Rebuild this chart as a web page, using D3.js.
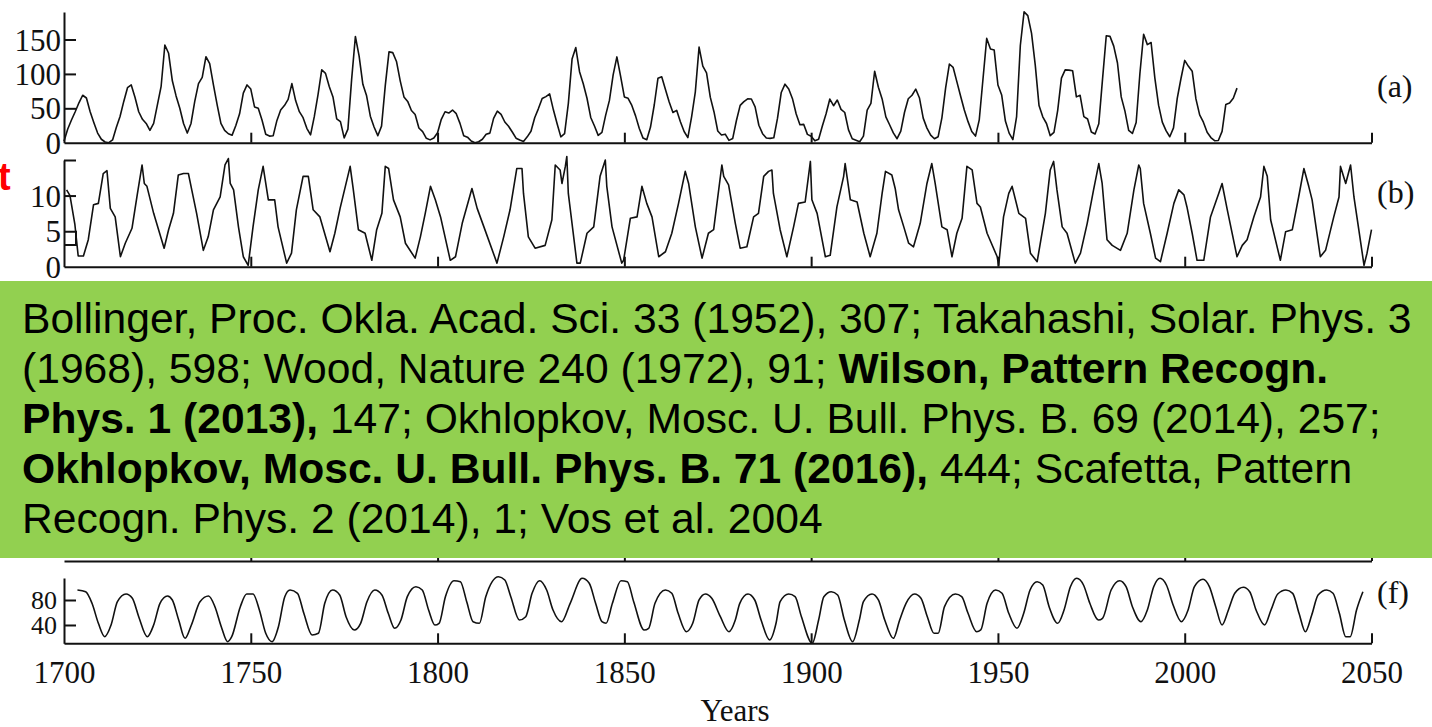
<!DOCTYPE html>
<html><head><meta charset="utf-8">
<script src="https://cdn.jsdelivr.net/npm/d3@7"></script>
<style>
body{margin:0;background:#fff;overflow:hidden}
svg{display:block}
</style>
</head><body>
<svg id="chart" width="1432" height="727"></svg>
<script>
// ---------- DATA ----------
// (a) yearly sunspot numbers
const sunspotYears = d3.range(1700, 2015);
const sunspotValues = [
2,20,33,45,58,69,65,45,29,14,5,1,0,4,22,38,60,80,84,66,
45,34,28,18,28,55,82,142,130,90,68,50,28,14,28,60,86,95,125,115,
84,55,28,18,13,11,25,42,72,84,78,52,50,33,12.2,9.6,10.2,32.4,47.6,54,
62.9,85.9,61.2,45.1,36.4,20.9,11.4,37.8,69.8,106.1,100.8,81.6,66.5,34.8,30.6,7,19.8,92.5,154.4,125.9,
84.8,68.1,38.5,22.8,10.2,24.1,82.9,132,130.9,118.1,89.9,66.6,60,46.9,41,21.3,16,6.4,4.1,6.8,
14.5,34,45,43.1,47.5,42.2,28.1,10.1,8.1,2.5,0,1.4,5,12.2,13.9,35.4,45.8,41.1,30.1,23.9,
15.6,6.6,4,1.8,8.5,16.6,36.3,49.6,64.2,67,70.9,47.8,27.5,8.5,13.2,56.9,121.5,138.3,103.2,85.7,
64.6,36.7,24.2,10.7,15,40.1,61.5,98.5,124.7,96.3,66.6,64.5,54.1,39,20.6,6.7,4.3,22.7,54.8,93.8,
95.8,77.2,59.1,44,47,30.5,16.3,7.3,37.6,74,139,111.2,101.6,66.2,44.7,17,11.3,12.4,3.4,6,
32.3,54.3,59.7,63.7,63.5,52.2,25.4,13.1,6.8,6.3,7.1,35.6,73,85.1,78,64,41.8,26.2,26.7,12.1,
9.5,2.7,5,24.4,42,63.5,53.8,62,48.5,43.9,18.6,5.7,3.6,1.4,9.6,47.4,57.1,103.9,80.6,63.6,
37.6,26.1,14.2,5.8,16.7,44.3,63.9,69,77.8,64.9,35.7,21.2,11.1,5.7,8.7,36.1,79.7,114.4,109.6,88.8,
67.8,47.5,30.6,16.3,9.6,33.2,92.6,151.6,136.3,134.7,83.9,69.4,31.5,13.9,4.4,38,141.7,190.2,184.8,159,
112.3,53.9,37.6,27.9,10.2,15.1,47,93.8,105.9,105.5,104.5,66.6,68.9,38,34.5,15.5,12.6,27.5,92.5,155.4,
154.6,140.4,115.9,66.6,45.9,17.9,13.4,29.4,100.2,157.6,142.6,145.7,94.3,54.6,29.9,17.5,8.6,21.5,64.3,93.3,
119.6,111,104,63.7,40.4,29.8,15.2,7.5,2.9,3.1,16.5,55.7,57.6,64.7,79.3
];

// (b) index
const bYears = [1700.7,1701.6,1702.9,1703.8,1705.2,1706.5,1707.9,1709.2,1710.5,1711.5,1712.4,1713.7,1715.1,1716.4,1718.2,1719.6,1720.9,1721.5,1722.2,1724.0,
1726.8,1728.0,1729.3,1730.6,1732.0,1733.3,1734.2,1735.5,1737.3,1738.6,1740.0,1741.8,1743.1,1744.0,1744.5,1745.4,1746.7,1748.0,1749.3,1750.6,
1752.0,1753.3,1754.7,1756.4,1757.3,1759.6,1760.9,1762.2,1764.0,1765.4,1766.7,1768.5,1771.2,1772.5,1773.9,1776.6,1777.4,1778.8,1780.6,1782.4,
1783.7,1785.1,1786.0,1786.9,1788.2,1790.0,1791.4,1794.0,1795.4,1796.7,1798.1,1799.4,1800.8,1803.4,1804.8,1806.6,1809.2,1810.6,1812.4,1815.9,
1817.7,1819.4,1821.2,1822.6,1823.0,1824.3,1826.1,1828.8,1830.6,1831.5,1832.8,1833.3,1834.2,1834.6,1835.0,1837.3,1838.2,1840.0,1841.8,1843.5,
1844.9,1845.3,1846.7,1849.3,1849.8,1851.6,1853.4,1854.7,1856.0,1857.4,1859.2,1861.0,1862.7,1864.5,1866.3,1867.2,1869.0,1870.8,1872.5,1873.9,
1876.1,1876.6,1877.9,1879.7,1881.0,1882.8,1884.6,1885.9,1887.3,1888.6,1889.5,1889.9,1891.7,1893.5,1895.3,1896.6,1898.4,1899.8,1900.2,1901.6,
1903.8,1905.1,1906.9,1908.7,1909.1,1910.5,1912.3,1914.1,1915.8,1917.6,1919.0,1919.9,1921.6,1922.5,1923.4,1924.8,1926.1,1927.4,1929.2,1931.0,
1932.3,1933.2,1935.0,1936.4,1937.7,1939.0,1940.4,1941.7,1943.1,1944.4,1945.3,1947.1,1949.8,1950.2,1951.5,1952.9,1953.8,1955.6,1957.4,1958.7,
1960.5,1962.7,1964.0,1964.9,1965.8,1967.2,1968.5,1970.7,1972.1,1973.9,1975.6,1977.0,1977.9,1979.2,1980.6,1982.8,1984.6,1986.4,1987.7,1988.1,
1989.0,1990.8,1992.2,1993.5,1995.3,1997.1,1998.4,1999.8,2000.6,2002.0,2003.3,2005.1,2006.9,2009.1,2010.0,2011.4,2014.0,2015.4,2016.7,2018.5,
2020.3,2021.2,2022.1,2023.0,2025.6,2027.0,2028.8,2030.5,2031.9,2033.2,2034.1,2036.3,2037.7,2039.9,2041.3,2041.7,2043.1,2044.4,2045.3,2046.6,
2048.0,2048.8,2050.0];
const bValues = [10.8,10.0,6.0,1.5,1.5,3.8,8.7,8.9,13.1,13.5,8.2,7.0,1.4,3.3,5.4,10.1,14.3,11.7,11.3,7.5,
2.6,5.2,7.5,12.9,13.1,13.1,10.8,7.5,2.3,4.2,8.0,9.8,14.3,15.2,11.7,10.8,5.6,1.4,0.2,5.6,
10.8,14.1,9.4,9.4,5.6,0.5,1.9,8.0,12.7,12.7,8.0,7.0,2.1,4.7,8.2,14.1,11.0,5.2,4.7,0.9,
5.2,7.5,14.1,13.8,9.4,7.0,3.3,1.2,4.2,7.5,11.3,9.4,7.0,0.9,1.4,6.1,11.0,8.2,5.6,0.5,
4.2,8.0,13.8,13.8,10.3,4.2,2.6,3.0,6.6,14.3,13.6,11.7,14.1,15.5,10.3,0.5,0.5,4.7,5.6,12.7,
15.0,11.3,5.6,0.5,0.9,6.8,7.0,11.3,8.9,7.0,1.4,2.1,4.7,8.9,13.4,11.7,5.6,1.2,4.7,5.2,
14.3,12.7,11.5,6.1,2.6,2.8,7.0,7.5,12.7,13.4,13.6,10.3,5.2,1.4,5.6,8.9,9.1,14.8,9.4,7.5,
1.4,1.6,8.4,12.7,14.5,9.4,9.1,4.7,1.4,4.7,10.3,13.4,12.9,11.0,8.0,5.6,3.3,2.8,6.1,11.7,
14.5,11.7,5.6,5.2,1.4,4.7,6.8,14.1,13.6,8.9,8.4,4.7,1.4,0.2,7.0,10.3,11.3,7.5,6.8,1.9,
0.7,7.5,13.6,14.8,10.8,5.6,4.7,0.5,1.9,6.1,10.8,14.5,11.7,3.8,3.0,2.3,4.7,10.8,14.3,13.8,
8.9,4.7,1.2,0.7,4.7,8.9,10.8,10.1,8.4,4.7,0.9,0.9,7.0,10.3,11.7,8.0,1.4,3.0,3.8,7.0,
9.8,14.1,12.7,6.6,0.9,4.9,5.2,9.8,13.8,11.3,9.4,1.4,2.3,7.0,9.8,14.1,11.7,14.3,9.8,5.2,
0.2,1.9,5.2];

// (f) index
const fYears = [1703.6,1705.8,1707.5,1709.2,1710.9,1712.6,1714.3,1716.6,1718.3,1720.0,1722.3,1724.0,1725.7,1727.7,1729.0,1730.7,1732.4,1734.1,1736.4,1738.7,
1740.4,1742.1,1743.8,1744.9,1747.2,1748.9,1750.6,1752.3,1754.0,1755.7,1757.4,1759.1,1760.5,1762.5,1764.2,1766.4,1768.1,1769.8,1771.9,1773.8,
1775.5,1777.7,1779.4,1781.1,1783.2,1785.1,1786.8,1788.5,1790.2,1791.9,1794.2,1795.9,1797.6,1799.3,1800.4,1802.1,1804.4,1806.1,1807.8,1809.5,
1811.2,1812.9,1816.3,1818.0,1819.6,1821.9,1823.6,1825.3,1827.3,1829.2,1830.9,1833.2,1835.5,1838.7,1840.6,1842.3,1844.0,1845.1,1846.8,1849.1,
1850.8,1852.5,1855.3,1856.5,1858.2,1861.0,1862.7,1864.4,1866.6,1868.3,1870.0,1871.7,1873.4,1875.7,1878.0,1879.7,1880.9,1883.1,1884.9,1886.6,
1888.9,1890.6,1891.7,1894.0,1895.7,1897.4,1900.3,1902.0,1903.4,1905.4,1907.1,1908.9,1911.1,1912.9,1914.0,1916.3,1918.0,1919.7,1922.0,1923.7,
1925.4,1927.7,1929.4,1931.1,1932.9,1934.0,1935.7,1938.6,1940.3,1942.0,1944.3,1945.4,1947.1,1949.4,1951.1,1952.9,1955.1,1956.9,1958.6,1960.5,
1962.0,1963.7,1966.0,1967.7,1969.4,1971.1,1972.9,1974.6,1976.9,1978.0,1980.3,1982.6,1984.3,1986.0,1988.3,1990.0,1991.7,1993.4,1995.1,1996.9,
1999.1,2000.9,2002.6,2004.9,2006.6,2008.3,2010.0,2011.7,2013.4,2015.7,2017.4,2019.1,2021.4,2023.1,2024.9,2027.1,2028.9,2030.6,2032.3,2034.0,
2035.7,2038.0,2039.7,2041.4,2043.1,2044.3,2046.0,2047.7];
const fValues = [96,93.3,74.7,42.7,21.3,40,77.3,89.6,82.7,53.3,21.3,40,74.7,86.4,80,48,18.7,40,77.3,86.4,
69.3,37.3,13.3,21.3,69.3,89.6,89.6,64,26.7,13.3,37.3,85.3,96,90.7,58.7,24,26.7,74.7,96,88,
53.3,32,42.7,77.3,96,88,58.7,34.7,48,85.3,101.3,96,64,40,42.7,85.3,110.9,109.3,77.3,45.3,
42.7,85.3,117.3,112,85.3,48,53.3,90.7,110.9,96,64,45.3,74.7,114.7,106.7,74.7,45.3,42.7,74.7,110.9,
109.3,77.3,32,34.7,74.7,96,90.7,58.7,29.3,42.7,80,89.6,82.7,53.3,29.3,48,74.7,89.6,80,48,
16,42.7,77.3,89.6,85.3,53.3,10.7,48,85.3,93.3,88,48,13.3,48,77.3,89.6,80,48,18.7,48,
74.7,89.6,82.7,53.3,26.7,26.7,69.3,89.6,85.3,58.7,29.3,32,74.7,96,90.7,58.7,34.7,58.7,96,109.3,
104,69.3,42.7,64,101.3,114.7,104,74.7,48,50.7,96,110.9,101.3,69.3,45.3,64,101.3,114.7,104,72,
45.3,64,101.3,113.1,101.3,69.3,40,64,90.7,100.3,93.3,64,40,64,89.6,96,90.7,58.7,29.3,56,
88,96,90.7,58.7,21.3,21.3,64,93.3];

const xTickYears = [1700,1750,1800,1850,1900,1950,2000,2050];
const aTicks = [0,50,100,150];
const bTicks = [0,5,10];
const fTicks = [40,80];
const panelLabels = ["(a)","(b)","(f)"];
const citeLines = [
  [["Bollinger, Proc. Okla. Acad. Sci. 33 (1952), 307; Takahashi, Solar. Phys. 3", false]],
  [["(1968), 598; Wood, Nature 240 (1972), 91; ", false], ["Wilson, Pattern Recogn.", true]],
  [["Phys. 1 (2013),", true], [" 147; Okhlopkov, Mosc. U. Bull. Phys. B. 69 (2014), 257;", false]],
  [["Okhlopkov, Mosc. U. Bull. Phys. B. 71 (2016),", true], [" 444; Scafetta, Pattern", false]],
  [["Recogn. Phys. 2 (2014), 1; Vos et al. 2004", false]]
];

// ---------- DRAW ----------
const svg = d3.select("#chart");
const serif = "'Liberation Serif','Times New Roman',serif";
const x = d3.scaleLinear().domain([1700, 2050]).range([64, 1371.5]);

const panels = [
  {data: sunspotYears.map((yr,i)=>[yr, sunspotValues[i]]), y: d3.scaleLinear().domain([0,190]).range([142.7,12]),
   ticks: aTicks, tickMarks: [50,100,150], label: panelLabels[0], labelY: 86, fs: 31, curve: d3.curveLinear},
  {data: bYears.map((yr,i)=>[yr, bValues[i]]), y: d3.scaleLinear().domain([0,15]).range([266.7,160]),
   ticks: bTicks, tickMarks: [10,15], label: panelLabels[1], labelY: 192, fs: 31, curve: d3.curveLinear},
  {data: fYears.map((yr,i)=>[yr, fValues[i]]), y: d3.scaleLinear().domain([10.7,115.2]).range([643.3,578]),
   ticks: fTicks, tickMarks: [40,80], label: panelLabels[2], labelY: 592, fs: 26, curve: d3.curveMonotoneX, bottom: true}
];

// hidden panel (e) axis remnant under the green box
const eBase = 561;
svg.append("g").attr("transform", `translate(0,${eBase})`)
  .call(d3.axisBottom(x).tickValues(xTickYears.slice(1)).tickSize(-10).tickSizeOuter(0).tickFormat(""))
  .call(g => g.selectAll("path,line").attr("stroke","#111").attr("stroke-width",2));

panels.forEach(p => {
  const y = p.y;
  const base = y.range()[0];
  // x axis
  const xa = svg.append("g").attr("transform", `translate(0,${base})`)
    .call(d3.axisBottom(x).tickValues(p.bottom ? xTickYears : xTickYears.slice(1))
      .tickSize(-10).tickSizeOuter(0).tickPadding(17.5)
      .tickFormat(p.bottom ? d3.format("d") : ""));
  xa.selectAll("path,line").attr("stroke","#111").attr("stroke-width",2);
  xa.selectAll("text").attr("font-family", serif).attr("font-size", 31).attr("fill","#111");
  if (p.bottom) xa.selectAll(".tick").filter(d => d === 1700).select("line").remove();
  // y axis
  const ya = svg.append("g").attr("transform", `translate(64,0)`)
    .call(d3.axisLeft(y).tickValues(p.ticks).tickSize(0).tickSizeOuter(0).tickPadding(p.bottom ? 7 : 3));
  ya.select(".domain").attr("stroke","#111").attr("stroke-width",2);
  ya.selectAll("text").attr("font-family", serif).attr("font-size", p.fs).attr("fill","#111").attr("dy","0.34em");
  // inward tick marks
  const tm = svg.append("g").attr("transform", `translate(64,0)`)
    .call(d3.axisRight(y).tickValues(p.tickMarks).tickSize(12).tickSizeOuter(0).tickFormat(""));
  tm.select(".domain").remove();
  tm.selectAll("line").attr("stroke","#111").attr("stroke-width",2);
  // data line
  svg.append("path").datum(p.data)
    .attr("fill","none").attr("stroke","#111").attr("stroke-width",1.6).attr("stroke-linejoin","round")
    .attr("d", d3.line().curve(p.curve).x(d => x(d[0])).y(d => y(d[1])));
  // panel label
  svg.append("text").attr("x", 1377).attr("y", p.labelY).attr("dy","0.35em")
    .attr("font-family", serif).attr("font-size", 32).attr("fill","#111").text(p.label);
});

// small box mark near 5 on panel (b)
{
  const y = panels[1].y;
  svg.append("path").attr("fill","none").attr("stroke","#111").attr("stroke-width",2)
    .attr("d", d3.line()([[64, y(4.9)],[76, y(4.9)],[76, y(3.05)],[64, y(3.05)]]));
}

// x axis title
svg.append("text").attr("x", 735).attr("y", 721).attr("text-anchor","middle")
  .attr("font-family", serif).attr("font-size", 31).attr("fill","#111").text("Years");

// red letter on the left edge
svg.append("text").attr("x", -2).attr("y", 190)
  .attr("font-family","'Liberation Sans',Arial,sans-serif").attr("font-weight","bold")
  .attr("font-size", 38).attr("fill","#ff0000").text("t");

// green citation box
svg.append("rect").attr("x", 0).attr("y", 281).attr("width", 1432).attr("height", 277).attr("fill", "#92d050");
const cite = svg.append("g").attr("font-family","'Liberation Sans',Arial,sans-serif").attr("fill","#000");
let fs = 38;
const texts = citeLines.map((segs, i) => {
  const t = cite.append("text").attr("x", 22).attr("y", 333 + i*50).attr("font-size", fs).style("white-space","pre");
  segs.forEach(([s, b]) => t.append("tspan").attr("font-weight", b ? "bold" : "normal").text(s));
  return t;
});
const w = texts[0].node().getComputedTextLength();
fs = fs * 1390 / w;
texts.forEach(t => t.attr("font-size", fs));
</script>
</body></html>
